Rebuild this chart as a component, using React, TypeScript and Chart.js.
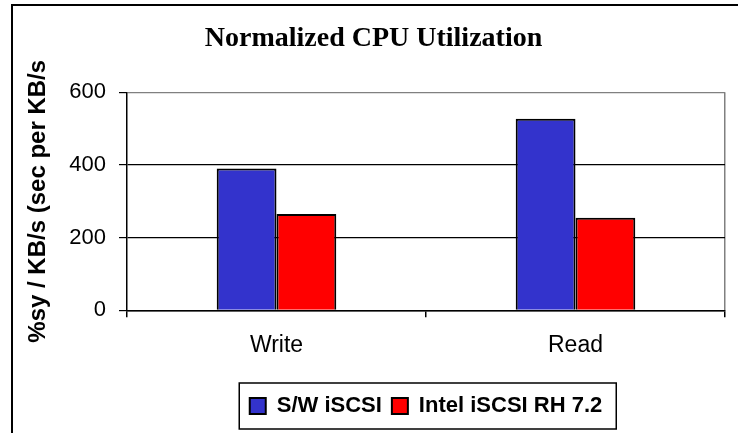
import React, { useEffect, useRef } from "react";
import { Chart, registerables } from "chart.js";

Chart.register(...registerables);

const categories = ["Write", "Read"];
const seriesNames = ["S/W iSCSI", "Intel iSCSI RH 7.2"];
const swIscsi = [390, 527];
const intelIscsi = [265, 255];
const yTicks = [0, 200, 400, 600];
const titleText = "Normalized CPU Utilization";
const yAxisTitle = "%sy / KB/s (sec per KB/s";

const SANS = "'Liberation Sans', Arial, sans-serif";
const SERIF = "'Liberation Serif', 'Times New Roman', serif";

const framePlugin = {
  id: "frame",
  beforeDraw(chart: any) {
    const ctx = chart.ctx;
    ctx.save();
    ctx.fillStyle = "#ffffff";
    ctx.fillRect(0, 0, chart.width, chart.height);
    ctx.strokeStyle = "#000000";
    ctx.lineWidth = 2;
    ctx.strokeRect(12, 5, 1000, 1000);
    ctx.restore();
  },
  afterDraw(chart: any) {
    const legend = chart.legend;
    if (!legend || !legend.legendHitBoxes || !legend.legendHitBoxes.length) return;
    const boxes = legend.legendHitBoxes;
    const first = boxes[0];
    const last = boxes[boxes.length - 1];
    const cy = first.top + first.height / 2;
    const ctx = chart.ctx;
    ctx.save();
    ctx.strokeStyle = "#000000";
    ctx.lineWidth = 1.5;
    const left = first.left - 10.5;
    const right = last.left + last.width + 14;
    ctx.strokeRect(left, cy - 23, right - left, 46);
    ctx.restore();
  },
};

export default function App() {
  const ref = useRef<HTMLCanvasElement | null>(null);
  useEffect(() => {
    if (!ref.current) return;
    const chart = new Chart(ref.current, {
      type: "bar",
      data: {
        labels: categories,
        datasets: [
          {
            label: seriesNames[0],
            data: swIscsi,
            backgroundColor: "#3333CC",
            borderColor: "#000000",
            borderWidth: 2,
            categoryPercentage: 0.4,
            barPercentage: 1.0,
          },
          {
            label: seriesNames[1],
            data: intelIscsi,
            backgroundColor: "#FF0000",
            borderColor: "#000000",
            borderWidth: 2,
            categoryPercentage: 0.4,
            barPercentage: 1.0,
          },
        ],
      },
      options: {
        responsive: false,
        animation: false,
        layout: { padding: { left: 22, right: 13, top: 2, bottom: 6 } },
        plugins: {
          title: {
            display: true,
            text: titleText,
            color: "#000000",
            font: { family: SERIF, size: 28, weight: "bold" },
            padding: { top: 20, bottom: 36.7 },
          },
          legend: {
            display: true,
            position: "bottom",
            fullSize: false,
            labels: {
              color: "#000000",
              font: { family: SANS, size: 22, weight: "bold" },
              boxWidth: 16,
              boxHeight: 16,
              padding: 10,
            },
          },
          tooltip: { enabled: false },
        },
        scales: {
          x: {
            grid: {
              display: true,
              offset: true,
              drawOnChartArea: true,
              drawTicks: true,
              tickLength: 7,
              tickColor: "#000000",
              color: (c: any) => (c.tick ? "rgba(0,0,0,0)" : "#808080"),
              lineWidth: 1.5,
            },
            border: { display: true, color: "#000000", width: 1.5 },
            ticks: {
              color: "#000000",
              font: { family: SANS, size: 23 },
              padding: 15,
              maxRotation: 0,
            },
            afterFit: (s: any) => {
              s.height = 74.7;
            },
          },
          y: {
            min: 0,
            max: 600,
            afterBuildTicks: (s: any) => {
              s.ticks = yTicks.map((v) => ({ value: v }));
            },
            grid: {
              display: true,
              drawTicks: true,
              tickLength: 8,
              tickColor: "#000000",
              color: (c: any) => (c.tick && c.tick.value === 600 ? "#808080" : "#000000"),
              lineWidth: 1.2,
            },
            border: { display: true, color: "#000000", width: 1.5 },
            ticks: {
              color: "#000000",
              font: { family: SANS, size: 22 },
              padding: 13,
            },
            title: {
              display: true,
              text: yAxisTitle,
              color: "#000000",
              font: { family: SANS, size: 24, weight: "bold" },
              padding: { top: 2, bottom: 0 },
            },
            afterFit: (s: any) => {
              s.width = 105;
            },
          },
        },
      },
      plugins: [framePlugin],
    });
    return () => chart.destroy();
  }, []);
  return (
    <div style={{ position: "absolute", left: 0, top: 0, width: 738, height: 433 }}>
      <canvas ref={ref} width={738} height={433} style={{ display: "block" }} />
    </div>
  );
}
